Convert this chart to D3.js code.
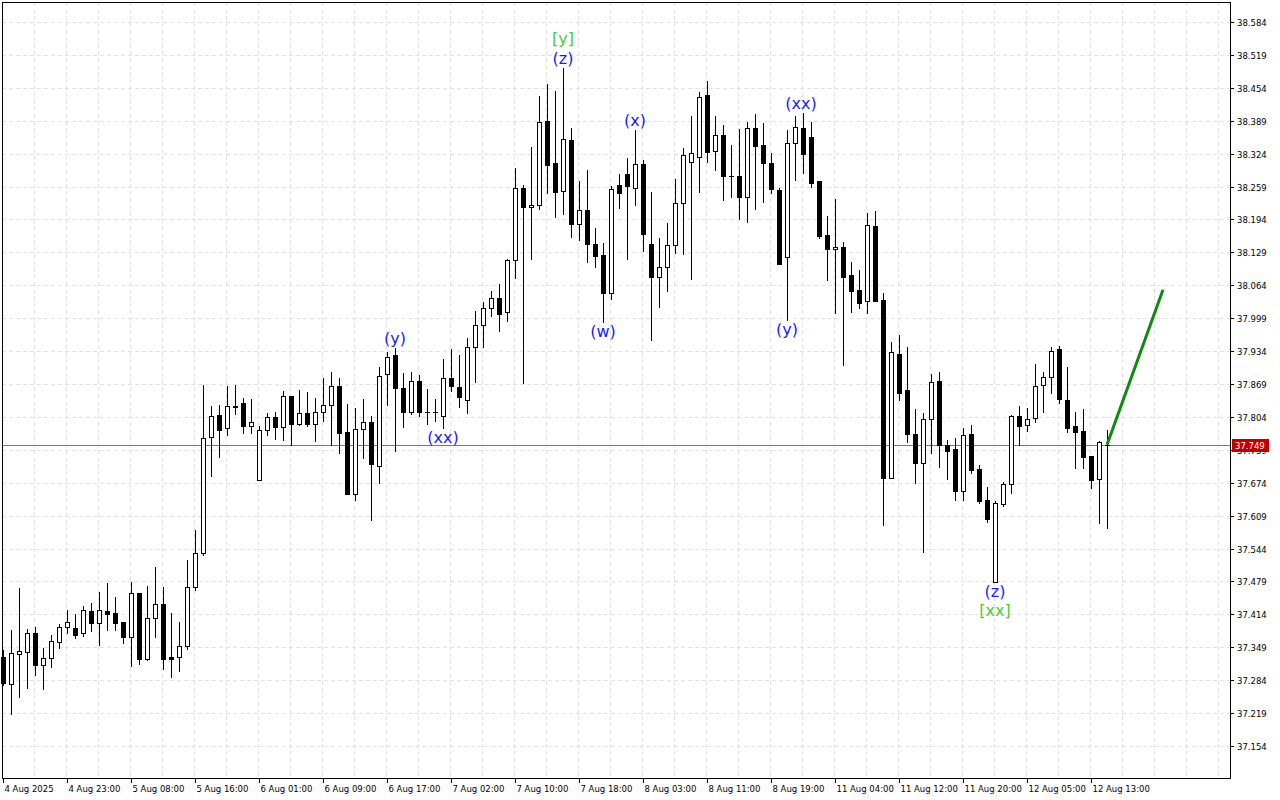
<!DOCTYPE html>
<html><head><meta charset="utf-8">
<script src="https://cdn.jsdelivr.net/npm/d3@7"></script>
<style>html,body{margin:0;padding:0;background:#fff;overflow:hidden}svg{display:block}</style>
</head><body>
<svg id="c" width="1280" height="800"></svg>
<script>
const opens=[37.330,37.277,37.336,37.340,37.377,37.314,37.328,37.360,37.389,37.387,37.377,37.421,37.397,37.421,37.417,37.399,37.369,37.456,37.326,37.407,37.435,37.330,37.330,37.352,37.468,37.535,37.764,37.808,37.782,37.826,37.832,37.786,37.679,37.778,37.804,37.784,37.845,37.790,37.812,37.790,37.814,37.828,37.865,37.774,37.652,37.780,37.794,37.707,37.889,37.926,37.861,37.814,37.875,37.814,37.813,37.806,37.881,37.863,37.837,37.942,37.986,38.019,38.039,38.011,38.114,38.256,38.219,38.223,38.389,38.306,38.250,38.351,38.185,38.213,38.146,38.124,38.049,38.262,38.284,38.256,38.304,38.146,38.080,38.100,38.144,38.227,38.308,38.317,38.440,38.329,38.361,38.280,38.280,38.238,38.375,38.341,38.306,38.252,38.120,38.345,38.375,38.357,38.270,38.163,38.136,38.140,38.084,38.055,38.033,38.181,38.035,37.683,37.928,37.857,37.770,37.713,37.800,37.875,37.749,37.741,37.658,37.770,37.701,37.640,37.478,37.632,37.672,37.806,37.788,37.802,37.867,37.883,37.938,37.837,37.786,37.776,37.727,37.681,37.749];
const highs=[37.344,37.383,37.466,37.385,37.389,37.348,37.373,37.395,37.423,37.415,37.431,37.437,37.458,37.476,37.448,37.399,37.478,37.456,37.470,37.508,37.468,37.417,37.399,37.521,37.581,37.867,37.826,37.828,37.865,37.867,37.841,37.839,37.786,37.812,37.814,37.855,37.845,37.857,37.853,37.841,37.881,37.893,37.881,37.830,37.822,37.839,37.806,37.903,37.932,37.940,37.891,37.893,37.887,37.859,37.839,37.918,37.938,37.926,37.960,38.013,38.031,38.053,38.067,38.116,38.296,38.262,38.337,38.438,38.462,38.448,38.493,38.375,38.270,38.292,38.177,38.148,38.260,38.284,38.315,38.371,38.312,38.248,38.157,38.187,38.274,38.335,38.398,38.446,38.468,38.398,38.381,38.341,38.373,38.387,38.402,38.385,38.325,38.256,38.371,38.398,38.404,38.387,38.270,38.201,38.234,38.150,38.110,38.094,38.207,38.211,38.049,37.952,37.966,37.942,37.820,37.812,37.889,37.893,37.758,37.762,37.782,37.788,37.709,37.666,37.638,37.676,37.808,37.826,37.822,37.909,37.893,37.942,37.944,37.903,37.814,37.820,37.727,37.757,37.778];
const lows=[37.275,37.217,37.251,37.269,37.294,37.267,37.310,37.348,37.377,37.367,37.371,37.381,37.354,37.383,37.383,37.358,37.312,37.316,37.324,37.369,37.306,37.290,37.302,37.346,37.462,37.531,37.687,37.725,37.768,37.810,37.772,37.772,37.679,37.768,37.760,37.758,37.749,37.788,37.786,37.757,37.796,37.749,37.733,37.652,37.640,37.723,37.601,37.674,37.828,37.737,37.784,37.810,37.806,37.790,37.796,37.782,37.855,37.824,37.812,37.873,37.942,38.003,37.974,37.994,38.078,37.871,38.116,38.215,38.246,38.199,38.205,38.159,38.153,38.110,38.100,37.992,38.037,38.217,38.116,38.223,38.132,37.956,38.021,38.053,38.128,38.126,38.076,38.248,38.308,38.292,38.232,38.238,38.195,38.189,38.215,38.229,38.246,38.106,37.995,38.272,38.286,38.258,38.157,38.074,38.009,37.907,38.011,38.019,38.009,38.033,37.591,37.683,37.837,37.755,37.674,37.537,37.733,37.705,37.681,37.640,37.640,37.693,37.634,37.597,37.478,37.628,37.654,37.749,37.776,37.794,37.814,37.851,37.832,37.774,37.703,37.703,37.664,37.595,37.585];
const closes=[37.279,37.338,37.342,37.377,37.314,37.328,37.362,37.389,37.399,37.373,37.423,37.397,37.423,37.415,37.397,37.369,37.456,37.326,37.407,37.435,37.326,37.326,37.352,37.468,37.535,37.762,37.806,37.778,37.826,37.824,37.786,37.794,37.778,37.804,37.784,37.845,37.790,37.812,37.790,37.814,37.828,37.865,37.772,37.652,37.780,37.794,37.711,37.885,37.922,37.861,37.814,37.875,37.814,37.813,37.814,37.881,37.865,37.843,37.942,37.986,38.019,38.039,38.007,38.114,38.256,38.219,38.223,38.387,38.302,38.248,38.353,38.185,38.213,38.146,38.122,38.049,38.254,38.246,38.260,38.304,38.165,38.080,38.100,38.144,38.227,38.321,38.325,38.436,38.327,38.361,38.280,38.279,38.238,38.375,38.339,38.306,38.254,38.106,38.345,38.377,38.323,38.266,38.161,38.136,38.140,38.080,38.053,38.029,38.183,38.033,37.683,37.932,37.851,37.770,37.713,37.800,37.873,37.749,37.737,37.658,37.768,37.699,37.638,37.602,37.634,37.672,37.806,37.786,37.800,37.865,37.883,37.934,37.839,37.782,37.774,37.725,37.679,37.755,37.749];
const xLabels=["4 Aug 2025","4 Aug 23:00","5 Aug 08:00","5 Aug 16:00","6 Aug 01:00","6 Aug 09:00","6 Aug 17:00","7 Aug 02:00","7 Aug 10:00","7 Aug 18:00","8 Aug 03:00","8 Aug 11:00","8 Aug 19:00","11 Aug 04:00","11 Aug 12:00","11 Aug 20:00","12 Aug 05:00","12 Aug 13:00"];
const yTicks=[38.584,38.519,38.454,38.389,38.324,38.259,38.194,38.129,38.064,37.999,37.934,37.869,37.804,37.739,37.674,37.609,37.544,37.479,37.414,37.349,37.284,37.219,37.154];
const currentPrice=37.749;
const projection=[{i:138,p:37.749},{i:145,p:38.055}];
const waveIdx=[70,70,79,75,99.75,98,49,55,124,124];
const waveText=["[y]","(z)","(x)","(w)","(xx)","(y)","(y)","(xx)","(z)","[xx]"];
const waveAnchor=[38.493,38.493,38.371,37.992,38.404,37.995,37.940,37.782,37.478,37.478];
const wavePos=["above2","above","above","below","above","below","above","below","below","below2"];
const waveGreen=[true,false,false,false,false,false,false,false,false,true];

const svg=d3.select("#c");
const L=2,R=1230,T=2,B=778;
const x=d3.scaleLinear().domain([0,1]).range([3,11]);
const y=d3.scaleLinear().domain([37.154,38.584]).range([746,22]);
const g=svg.append("g");
for(let i=0;i<=38;i++){const gx=x(i*4)-1;if(gx>L&&gx<R)g.append("line").attr("x1",gx+.5).attr("x2",gx+.5).attr("y1",T).attr("y2",B).attr("stroke","#e2e2e2").attr("stroke-dasharray","4,3");}
yTicks.forEach(t=>g.append("line").attr("x1",L).attr("x2",R).attr("y1",Math.round(y(t))+.5).attr("y2",Math.round(y(t))+.5).attr("stroke","#e2e2e2").attr("stroke-dasharray","4,3"));
svg.append("line").attr("x1",L).attr("x2",R).attr("y1",Math.round(y(currentPrice))+.5).attr("y2",Math.round(y(currentPrice))+.5).attr("stroke","#7a7a7a");
const cg=svg.append("g");
opens.forEach((o,i)=>{
  const cx=Math.round(x(i))+.5, c=closes[i];
  cg.append("line").attr("x1",cx).attr("x2",cx).attr("y1",Math.round(y(highs[i]))).attr("y2",Math.round(y(lows[i]))+1).attr("stroke","#000");
  const top=Math.round(y(Math.max(o,c))), bot=Math.round(y(Math.min(o,c)));
  const bull=c>o;
  if(bot-top<1){cg.append("line").attr("x1",cx-2.5).attr("x2",cx+2.5).attr("y1",top+.5).attr("y2",top+.5).attr("stroke","#000");}
  else cg.append("rect").attr("x",cx-2).attr("y",top+.5).attr("width",4).attr("height",bot-top).attr("fill",bull?"#fff":"#000").attr("stroke","#000");
});
svg.append("path").attr("d",d3.line().x(d=>x(d.i)).y(d=>y(d.p))(projection)).attr("stroke","#118811").attr("stroke-width",3).attr("fill","none");
waveText.forEach((t,k)=>{
  const off={above:-4,above2:-24,below:15,below2:34}[wavePos[k]];
  svg.append("text").attr("x",x(waveIdx[k])).attr("y",y(waveAnchor[k])+off).attr("text-anchor","middle")
   .attr("font-family","DejaVu Sans, sans-serif").attr("font-size",16).attr("fill",waveGreen[k]?"#4ccc33":"#1a1aff").text(t);
});
svg.append("rect").attr("x",L+.5).attr("y",T+.5).attr("width",R-L).attr("height",B-T).attr("fill","none").attr("stroke","#000");
yTicks.forEach(t=>{const yy=Math.round(y(t));
  svg.append("line").attr("x1",R).attr("x2",R+4).attr("y1",yy+.5).attr("y2",yy+.5).attr("stroke","#000");
  svg.append("text").attr("x",R+7).attr("y",yy+3.5).attr("font-family","DejaVu Sans, sans-serif").attr("font-size",8.5).text(t.toFixed(3));
});
const cy=Math.round(y(currentPrice));
svg.append("rect").attr("x",R+2).attr("y",cy-6).attr("width",37).attr("height",13).attr("fill","#c00000");
svg.append("text").attr("x",R+5).attr("y",cy+4).attr("font-family","DejaVu Sans, sans-serif").attr("font-size",8.5).attr("fill","#fff").text(currentPrice.toFixed(3));
xLabels.forEach((t,k)=>{const xx=Math.round(x(k*8))+.5;
  svg.append("line").attr("x1",xx).attr("x2",xx).attr("y1",B).attr("y2",B+5).attr("stroke","#000");
  svg.append("text").attr("x",xx+1).attr("y",B+14).attr("font-family","DejaVu Sans, sans-serif").attr("font-size",8.5).text(t);
});
</script></body></html>
